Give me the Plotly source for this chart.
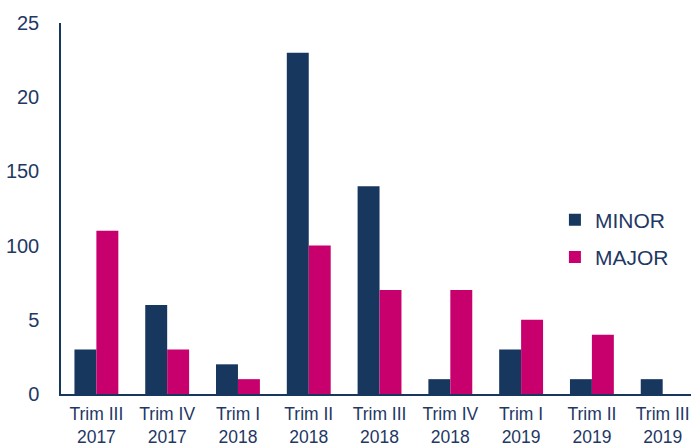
import plotly.graph_objects as go

categories = ["Trim III<br>2017", "Trim IV<br>2017", "Trim I<br>2018", "Trim II<br>2018",
              "Trim III<br>2018", "Trim IV<br>2018", "Trim I<br>2019", "Trim II<br>2019",
              "Trim III<br>2019"]
minor = [3, 6, 2, 23, 14, 1, 3, 1, 1]
major = [11, 3, 1, 10, 7, 7, 5, 4, 0]
ytick_vals = [0, 5, 10, 15, 20, 25]
ytick_text = ["0", "5", "100", "150", "20", "25"]

navy = "#17375e"
magenta = "#c8006e"
text_col = "#1f3864"

fig = go.Figure()
fig.add_trace(go.Bar(x=list(range(len(categories))), y=minor, name="MINOR",
                     marker=dict(color=navy, line=dict(width=0)), legendgroup="a"))
fig.add_trace(go.Bar(x=list(range(len(categories))), y=major, name="MAJOR",
                     marker=dict(color=magenta, line=dict(width=0)), legendgroup="b"))

fig.update_layout(
    width=691, height=446,
    margin=dict(l=61, r=0, t=23, b=52),
    paper_bgcolor="white", plot_bgcolor="white",
    barmode="group", bargap=0.38, bargroupgap=0,
    font=dict(family="Liberation Sans, Arial, sans-serif", color=text_col),
    legend=dict(x=0.784, y=0.419, xanchor="left", yanchor="middle",
                font=dict(size=21, color=text_col),
                tracegroupgap=7, bgcolor="rgba(0,0,0,0)"),
    xaxis=dict(
        tickmode="array", tickvals=list(range(len(categories))), ticktext=categories,
        range=[-0.5, 8.4], showline=True, linecolor=navy, linewidth=1.5,
        tickfont=dict(size=17.5, color=text_col, family="Liberation Sans Narrow, Arial Narrow, Liberation Sans"),
        showgrid=False, ticks="", ticklabelstandoff=3,
    ),
    yaxis=dict(
        range=[0, 25], tickmode="array", tickvals=ytick_vals, ticktext=ytick_text,
        showline=True, linecolor=navy, linewidth=1.5, showgrid=False, zeroline=False,
        tickfont=dict(size=20, color=text_col), ticks="", ticklabelstandoff=16,
    ),
)

fig.write_html("out.html")
